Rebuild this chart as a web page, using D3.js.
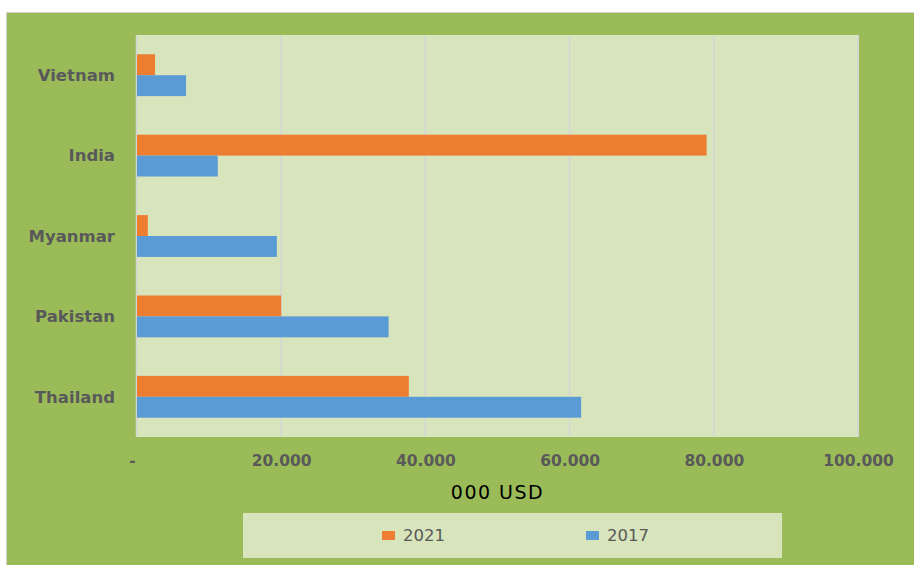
<!DOCTYPE html>
<html>
<head>
<meta charset="utf-8">
<script src="https://cdn.jsdelivr.net/npm/d3@7"></script>
<style>
  html, body { margin: 0; padding: 0; background: #ffffff; overflow: hidden; }
  svg { display: block; }
</style>
</head>
<body>
<svg id="chart" width="914" height="565"></svg>
<script>
// ---- data (000 USD) ----
const categories = ["Vietnam", "India", "Myanmar", "Pakistan", "Thailand"];
const seriesNames = ["2021", "2017"];
const values2021 = [2500, 79000, 1500, 20000, 37700];
const values2017 = [6800, 11200, 19400, 34900, 61600];
const tickValues = [0, 20000, 40000, 60000, 80000, 100000];
const tickLabels = ["-", "20.000", "40.000", "60.000", "80.000", "100.000"];
const axisTitle = "000 USD";

const colors = { "2021": "#ED7D31", "2017": "#5B9BD5" };
const seriesValues = { "2021": values2021, "2017": values2017 };

const svg = d3.select("#chart");
const W = 914, H = 565;

// outer chart area (extends past right and bottom edges)
svg.append("rect").attr("x", 6.5).attr("y", 12.5).attr("width", W + 40).attr("height", H + 40)
  .attr("fill", "#9BBB59").attr("stroke", "#D0D0D0").attr("stroke-width", 1);

const plot = { left: 137, right: 858, top: 35, bottom: 437 };

// plot background
svg.append("rect").attr("x", plot.left - 1).attr("y", plot.top)
  .attr("width", plot.right - plot.left + 2).attr("height", plot.bottom - plot.top)
  .attr("fill", "#D7E4BC");

const x = d3.scaleLinear().domain([0, 100000]).range([plot.left, plot.right]);
const y = d3.scaleBand().domain(categories).range([plot.top, plot.bottom])
  .paddingInner(0.48).paddingOuter(0.24);
const ySub = d3.scaleBand().domain(seriesNames).range([0, y.bandwidth()]);

// gridlines
svg.append("g").selectAll("line").data(tickValues.slice(1)).join("line")
  .attr("x1", d => x(d)).attr("x2", d => x(d))
  .attr("y1", plot.top).attr("y2", plot.bottom)
  .attr("stroke", "#D4D4D4").attr("stroke-width", 1.5);

// vertical axis line
svg.append("line").attr("x1", plot.left - 0.5).attr("x2", plot.left - 0.5)
  .attr("y1", plot.top).attr("y2", plot.bottom)
  .attr("stroke", "#D4D4D4").attr("stroke-width", 1.5);

// bars
const rows = [];
categories.forEach((c, i) => seriesNames.forEach(s => rows.push({ cat: c, s, v: seriesValues[s][i] })));
svg.append("g").selectAll("rect").data(rows).join("rect")
  .attr("x", x(0))
  .attr("y", d => y(d.cat) + ySub(d.s))
  .attr("width", d => x(d.v) - x(0))
  .attr("height", ySub.bandwidth())
  .attr("fill", d => colors[d.s]);

// x axis labels
const xAxis = d3.axisBottom(x).tickValues(tickValues)
  .tickFormat((d, i) => tickLabels[i]).tickSize(0).tickPadding(0);
const gx = svg.append("g").attr("transform", `translate(0, 466)`).call(xAxis);
gx.select(".domain").remove();
gx.selectAll("text")
  .attr("y", 0).attr("dy", 0)
  .attr("fill", "#595959")
  .style("font-family", "'DejaVu Sans', sans-serif")
  .style("font-weight", "bold")
  .style("font-size", "15.5px");
gx.selectAll(".tick").filter(d => d === 0).select("text").attr("x", -5);

// y axis labels
const yAxis = d3.axisLeft(y).tickSize(0).tickPadding(0);
const gy = svg.append("g").attr("transform", `translate(115, 0)`).call(yAxis);
gy.select(".domain").remove();
gy.selectAll("text")
  .attr("x", 0).attr("dy", "0.35em")
  .attr("fill", "#595959")
  .style("font-family", "'DejaVu Sans', sans-serif")
  .style("font-weight", "bold")
  .style("font-size", "16.5px");

// axis title
svg.append("text").attr("x", (plot.left + plot.right) / 2).attr("y", 499)
  .attr("text-anchor", "middle")
  .attr("fill", "#000000")
  .style("font-family", "'DejaVu Sans', sans-serif")
  .style("font-size", "19px")
  .style("letter-spacing", "1.5px")
  .text(axisTitle);

// legend
const legend = svg.append("g");
legend.append("rect").attr("x", 243).attr("y", 513).attr("width", 539).attr("height", 45)
  .attr("fill", "#D7E4BC");
const legendX = { "2021": 382, "2017": 586 };
const li = legend.selectAll("g.item").data(seriesNames).join("g").attr("class", "item")
  .attr("transform", d => `translate(${legendX[d]}, 0)`);
li.append("rect").attr("x", 0).attr("y", 531).attr("width", 13).attr("height", 9)
  .attr("fill", d => colors[d]);
li.append("text").attr("x", 21).attr("y", 541)
  .attr("fill", "#595959")
  .style("font-family", "'DejaVu Sans', sans-serif")
  .style("font-size", "16.5px")
  .text(d => d);
</script>
</body>
</html>
